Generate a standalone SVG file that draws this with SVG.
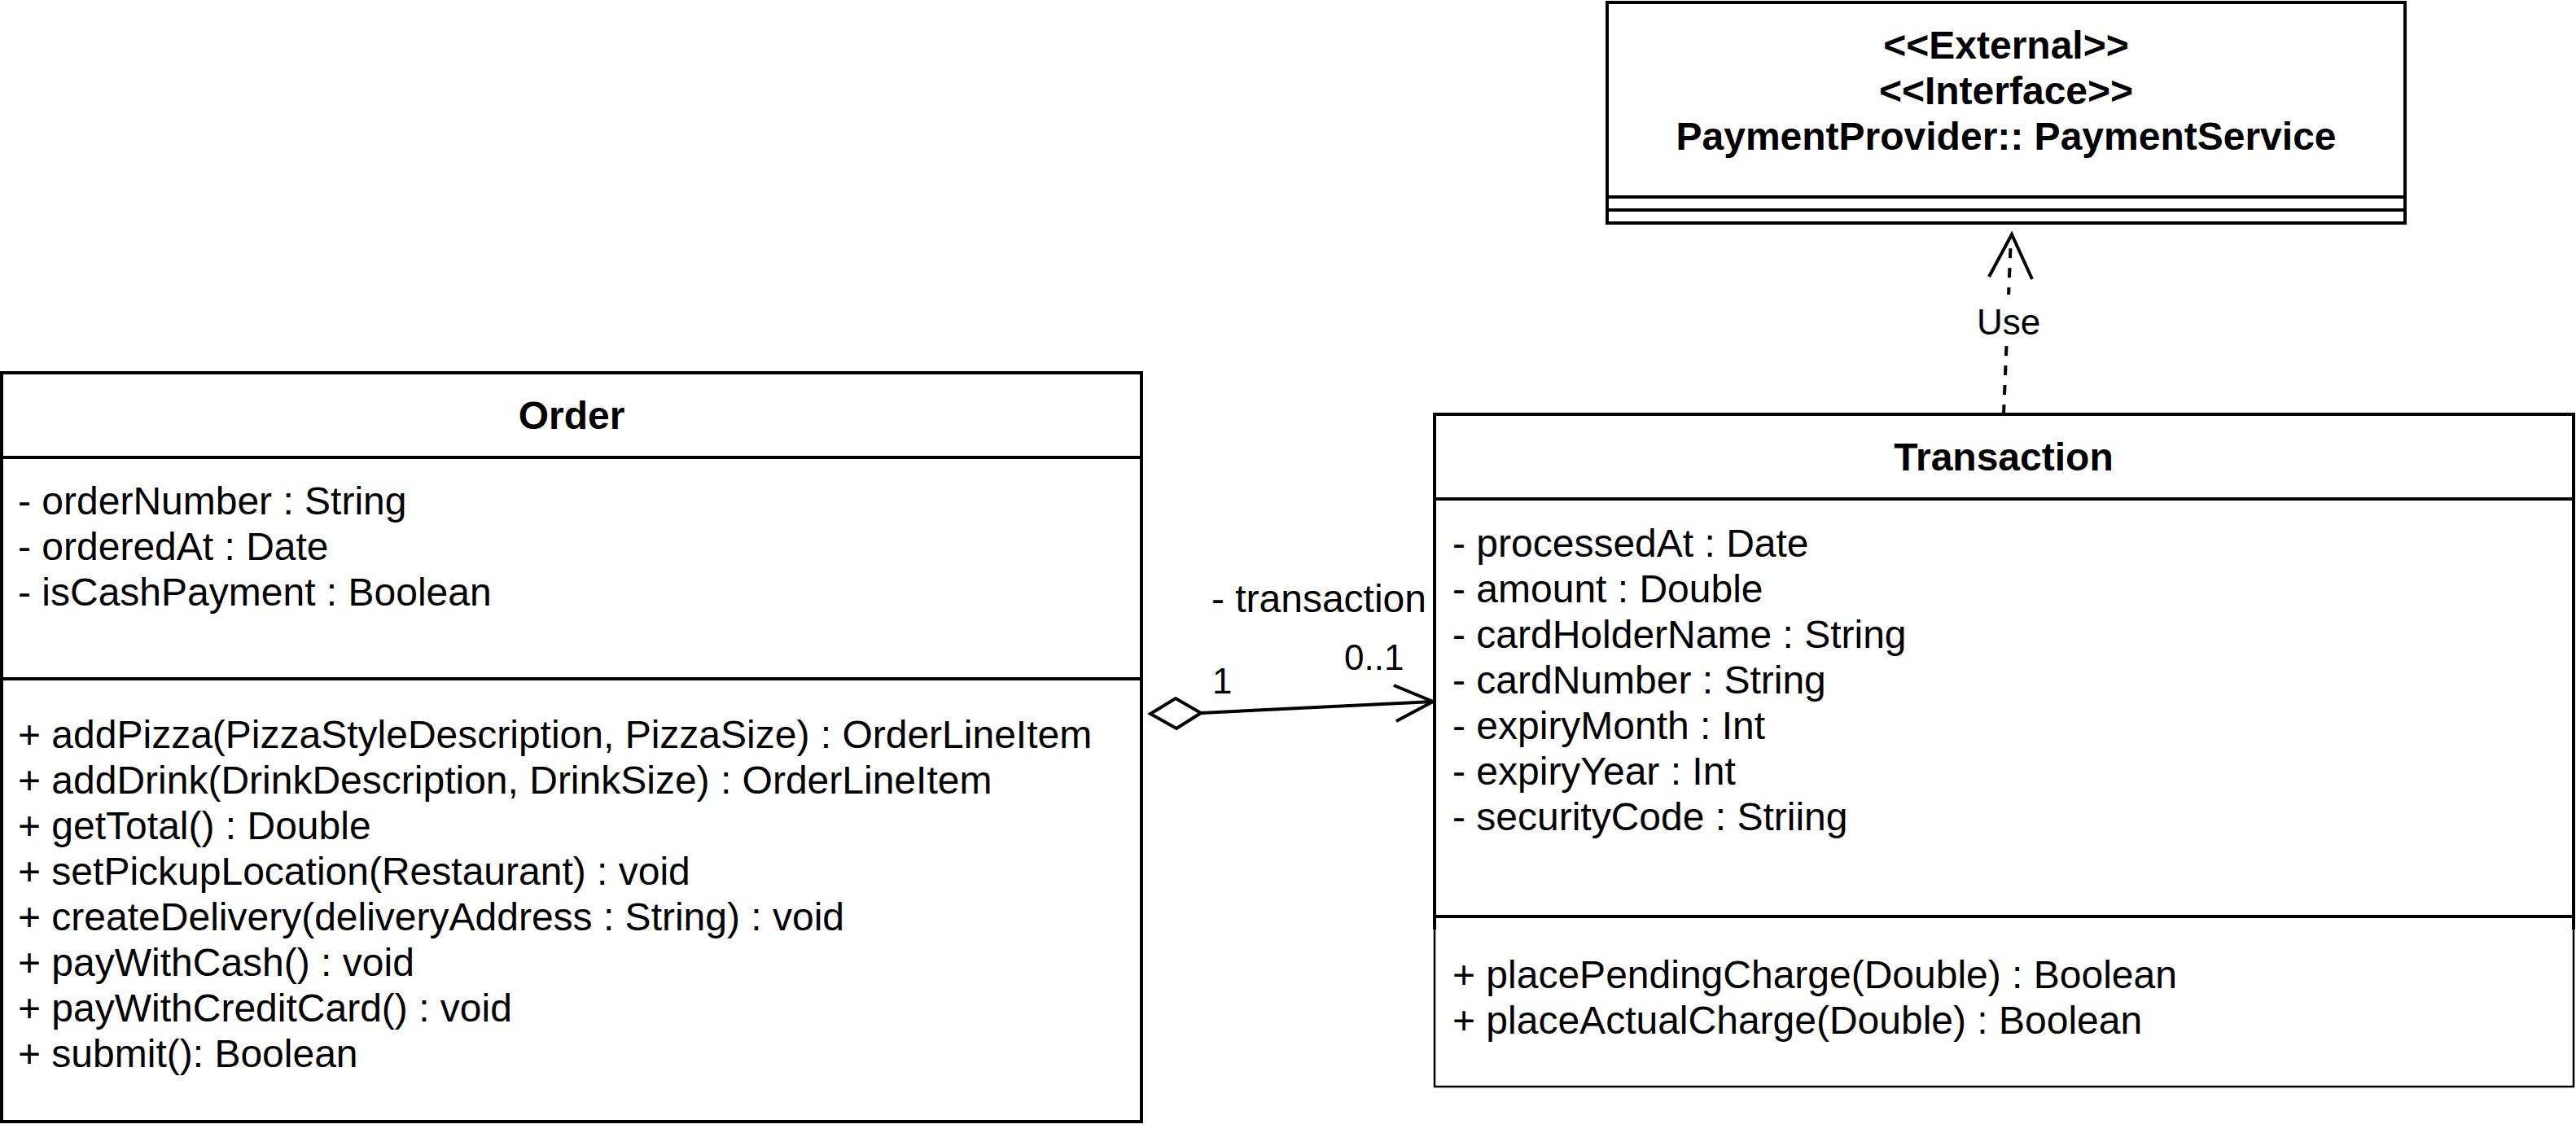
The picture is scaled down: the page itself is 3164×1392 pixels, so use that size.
<svg xmlns="http://www.w3.org/2000/svg" width="3164" height="1392" viewBox="0 0 3164 1392">
<style>
text{font-family:"Liberation Sans",Arial,Helvetica,sans-serif;fill:#000}
.t{font-size:48px;font-weight:bold;text-anchor:middle}
.a{font-size:48px}
.l{font-size:44px}
.box{fill:#fff;stroke:#000;stroke-width:4}
.thin{fill:#fff;stroke:#000;stroke-width:2.5}
.sep{stroke:#000;stroke-width:4;fill:none}
.edge{stroke:#000;stroke-width:4;fill:none}
</style>
<rect width="3164" height="1392" fill="#fff"/>
<g id="payment-service">
<rect class="box" x="1974" y="3" width="980" height="271"/>
<line class="sep" x1="1974" y1="242" x2="2954" y2="242"/>
<line class="sep" x1="1974" y1="258" x2="2954" y2="258"/>
<text class="t" x="2464" y="72">&lt;&lt;External&gt;&gt;</text>
<text class="t" x="2464" y="128">&lt;&lt;Interface&gt;&gt;</text>
<text class="t" x="2464" y="184">PaymentProvider:: PaymentService</text>
</g>
<g id="order">
<rect class="box" x="2" y="458" width="1400" height="920"/>
<line class="sep" x1="2" y1="562" x2="1402" y2="562"/>
<line class="sep" x1="2" y1="834" x2="1402" y2="834"/>
<text class="t" x="702" y="527">Order</text>
<text class="a" x="22" y="632">- orderNumber : String</text>
<text class="a" x="22" y="688">- orderedAt : Date</text>
<text class="a" x="22" y="744">- isCashPayment : Boolean</text>
<text class="a" x="22" y="919">+ addPizza(PizzaStyleDescription, PizzaSize) : OrderLineItem</text>
<text class="a" x="22" y="975">+ addDrink(DrinkDescription, DrinkSize) : OrderLineItem</text>
<text class="a" x="22" y="1031">+ getTotal() : Double</text>
<text class="a" x="22" y="1087">+ setPickupLocation(Restaurant) : void</text>
<text class="a" x="22" y="1143">+ createDelivery(deliveryAddress : String) : void</text>
<text class="a" x="22" y="1199">+ payWithCash() : void</text>
<text class="a" x="22" y="1255">+ payWithCreditCard() : void</text>
<text class="a" x="22" y="1311">+ submit(): Boolean</text>
</g>
<g id="transaction">
<rect class="thin" x="1762" y="1126" width="1399" height="209"/>
<path class="sep" d="M1762,1142 V509 H3161 V1142"/>
<line class="sep" x1="1762" y1="613" x2="3161" y2="613"/>
<line class="sep" x1="1762" y1="1126" x2="3161" y2="1126"/>
<text class="t" x="2461" y="578">Transaction</text>
<text class="a" x="1784" y="684">- processedAt : Date</text>
<text class="a" x="1784" y="740">- amount : Double</text>
<text class="a" x="1784" y="796">- cardHolderName : String</text>
<text class="a" x="1784" y="852">- cardNumber : String</text>
<text class="a" x="1784" y="908">- expiryMonth : Int</text>
<text class="a" x="1784" y="964">- expiryYear : Int</text>
<text class="a" x="1784" y="1020">- securityCode : Striing</text>
<text class="a" x="1784" y="1214">+ placePendingCharge(Double) : Boolean</text>
<text class="a" x="1784" y="1270">+ placeActualCharge(Double) : Boolean</text>
</g>
<g id="connectors">
<line class="edge" x1="2461" y1="509" x2="2470" y2="292" stroke-dasharray="12 12"/>
<polyline class="edge" points="2443,340 2471,288 2496,343"/>
<rect x="2430" y="362" width="74" height="62" fill="#fff"/>
<text class="l" x="2467" y="411" text-anchor="middle">Use</text>
<polygon class="edge" points="1413,877 1444,858 1475,876 1445,895" style="fill:#fff"/>
<line class="edge" x1="1475" y1="876" x2="1760" y2="862"/>
<polyline class="edge" points="1712,842 1760,862 1715,886"/>
<text class="a" x="1752" y="752" text-anchor="end">- transaction</text>
<text class="l" x="1489" y="852">1</text>
<text class="l" x="1651" y="823">0..1</text>
</g>
</svg>
